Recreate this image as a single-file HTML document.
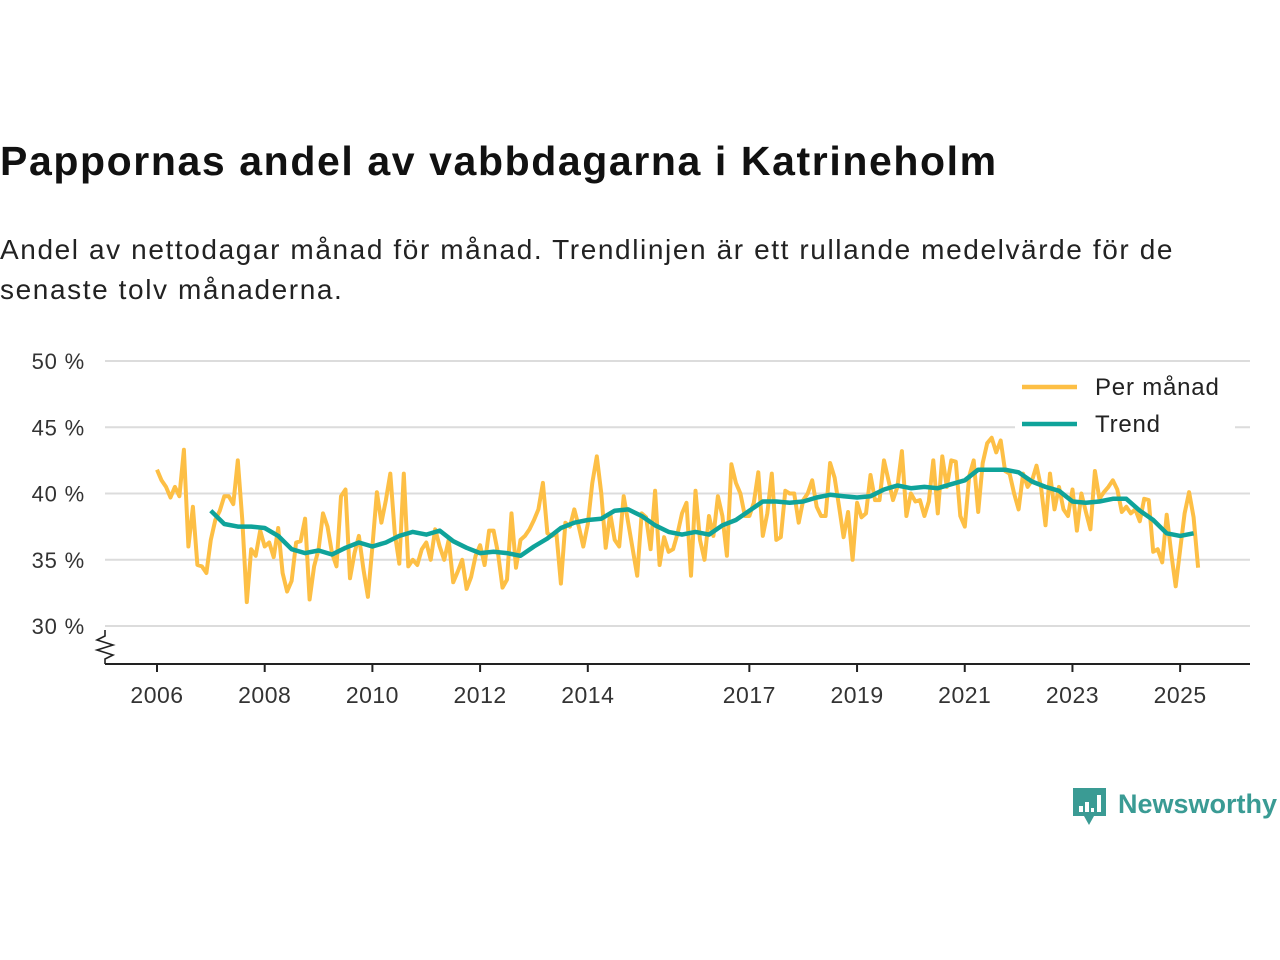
<!DOCTYPE html>
<html><head><meta charset="utf-8"><style>
body{margin:0;background:#fff;font-family:"Liberation Sans",sans-serif;}
#wrap{position:relative;width:1280px;height:960px;overflow:hidden}
h1{position:absolute;left:0;top:138px;margin:0;font-size:41px;font-weight:bold;color:#111;letter-spacing:1.6px;white-space:nowrap}
p{position:absolute;left:0;top:230px;margin:0;font-size:28px;line-height:40px;color:#222;width:1235px;letter-spacing:1.6px}
</style></head><body>
<div id="wrap">
<h1>Pappornas andel av vabbdagarna i Katrineholm</h1>
<p>Andel av nettodagar månad för månad. Trendlinjen är ett rullande medelvärde för de senaste tolv månaderna.</p>
<svg id="chart" width="1280" height="960" style="position:absolute;left:0;top:0"></svg>
</div>
<script>
const yTicks=[30,35,40,45,50];
const yTickLabels=["30 %","35 %","40 %","45 %","50 %"];
const xTicks=[2006,2008,2010,2012,2014,2017,2019,2021,2023,2025];
const startYear=2006;
const monthly=[41.8,41,40.5,39.7,40.5,39.8,43.3,36,39,34.6,34.5,34,
36.5,38,38.7,39.8,39.8,39.2,42.5,38,31.8,35.8,35.3,37.2,
36,36.3,35.2,37.4,34,32.6,33.4,36.3,36.4,38.1,32,34.5,
35.8,38.5,37.5,35.5,34.5,39.8,40.3,33.6,35.5,36.8,34.3,32.2,
36,40.1,37.8,39.5,41.5,37,34.7,41.5,34.5,35,34.6,35.8,
36.3,35,37.3,36,35,36.5,33.3,34.1,35,32.8,33.7,35.3,
36.1,34.6,37.2,37.2,35.5,32.9,33.5,38.5,34.4,36.5,36.8,37.3,
38,38.8,40.8,37,36.8,37,33.2,37.8,37.5,38.8,37.5,36,
37.7,40.8,42.8,40,35.9,38.5,36.5,36,39.8,37.8,35.8,33.8,
38.5,38.2,35.8,40.2,34.6,36.7,35.6,35.8,37,38.5,39.3,33.8,
40.2,36.5,35,38.3,36.8,39.8,38.3,35.3,42.2,40.8,40,38.3,
38.3,39.3,41.6,36.8,38.5,41.5,36.5,36.7,40.2,40,40,37.8,
39.5,40,41,39,38.3,38.3,42.3,41.2,39,36.7,38.6,35,
39.3,38.2,38.5,41.4,39.5,39.5,42.5,41,39.5,40.5,43.2,38.3,
40,39.4,39.5,38.3,39.4,42.5,38.5,42.8,40.5,42.5,42.4,38.3,
37.5,41.3,42.5,38.6,42.3,43.8,44.2,43.1,44,41.7,41.5,40,
38.8,41.5,40.5,41,42.1,40.5,37.6,41.5,38.8,40.5,38.8,38.3,
40.3,37.2,40,38.6,37.3,41.7,39.6,40.1,40.5,41,40.3,38.6,
39,38.5,38.8,37.9,39.6,39.5,35.6,35.8,34.8,38.4,35.5,33,
35.8,38.5,40.1,38.2,34.4];
const trendStart=2007;
const trendQuarterly=[38.7,37.7,37.5,37.5,37.4,36.8,35.8,35.5,35.7,35.4,35.9,36.3,36.0,36.3,36.8,37.1,36.9,37.2,36.4,35.9,35.5,35.6,35.5,35.3,36.0,36.6,37.4,37.8,38.0,38.1,38.7,38.8,38.3,37.6,37.1,36.9,37.1,36.9,37.6,38.0,38.7,39.4,39.4,39.3,39.4,39.7,39.9,39.8,39.7,39.8,40.3,40.6,40.4,40.5,40.4,40.7,41.0,41.8,41.8,41.8,41.6,40.9,40.5,40.2,39.4,39.3,39.4,39.6,39.6,38.7,38.0,37.0,36.8,37.0];

const NS="http://www.w3.org/2000/svg";
const svg=document.getElementById('chart');
const L=105,R=1250;
const X=t=>157+(t-2006)*53.85;
const Y=v=>626-(v-30)*13.25;
function mk(tag,attrs,parent){const e=document.createElementNS(NS,tag);for(const k in attrs)e.setAttribute(k,attrs[k]);(parent||svg).appendChild(e);return e;}
yTicks.forEach((v,i)=>{
 const g=mk('line',{x1:L,x2:R,y1:Y(v),y2:Y(v),stroke:'#dcdcdc','stroke-width':2});
 
 
 const t=mk('text',{x:85,y:Y(v)+8,'text-anchor':'end','font-size':22,fill:'#333','letter-spacing':'0.8','font-family':'Liberation Sans, sans-serif'});
 t.textContent=yTickLabels[i];
 
 
});
const ax=mk('line',{x1:L,x2:R,y1:664,y2:664,stroke:'#222','stroke-width':2});


const br=mk('path',{d:'M105 630 L105 636 L97 640 L113 645 L97 650 L113 655 L105 659 L105 664',fill:'none',stroke:'#222','stroke-width':1.6});


xTicks.forEach(yr=>{
 const tk=mk('line',{x1:X(yr),x2:X(yr),y1:664,y2:672,stroke:'#222','stroke-width':2});
 
 
 const t=mk('text',{x:X(yr),y:703,'text-anchor':'middle','font-size':23,fill:'#333','letter-spacing':'0.5','font-family':'Liberation Sans, sans-serif'});
 t.textContent=yr;
 
 
});
const mp=monthly.map((v,i)=>X(startYear+i/12).toFixed(1)+','+Y(v).toFixed(1)).join(' ');
const m=mk('polyline',{points:mp,fill:'none',stroke:'#fdbf45','stroke-width':4,'stroke-linejoin':'round'});


const tp=trendQuarterly.map((v,i)=>X(trendStart+i/4).toFixed(1)+','+Y(v).toFixed(1)).join(' ');
const tr=mk('polyline',{points:tp,fill:'none',stroke:'#0fa39a','stroke-width':4.5,'stroke-linejoin':'round'});


const lg=mk('rect',{x:1015,y:370,width:220,height:62,fill:'#fff'});


[['Per månad','#fdbf45',387],['Trend','#0fa39a',424]].forEach(([lab,c,y])=>{
 const l=mk('line',{x1:1022,x2:1077,y1:y,y2:y,stroke:c,'stroke-width':4.5});
 
 
 const t=mk('text',{x:1095,y:y+8,'font-size':24,fill:'#222','letter-spacing':'0.8','font-family':'Liberation Sans, sans-serif'});
 t.textContent=lab;
 
 
});
const lb=mk('path',{d:'M1073 788 h33 v28 h-12 l-5 9 l-5 -9 h-11 z',fill:'#3a9b94'});


[[1079,806,4,6],[1085,802,4,10],[1091,808,3,4],[1097,795,4,17]].forEach(b=>{const r=mk('rect',{x:b[0],y:b[1],width:b[2],height:b[3],fill:'#fff'});});
const lt=mk('text',{x:1118,y:813,'font-size':27,'font-weight':'bold',fill:'#3a9b94','font-family':'Liberation Sans, sans-serif'});
lt.textContent='Newsworthy';


</script>
</body></html>
